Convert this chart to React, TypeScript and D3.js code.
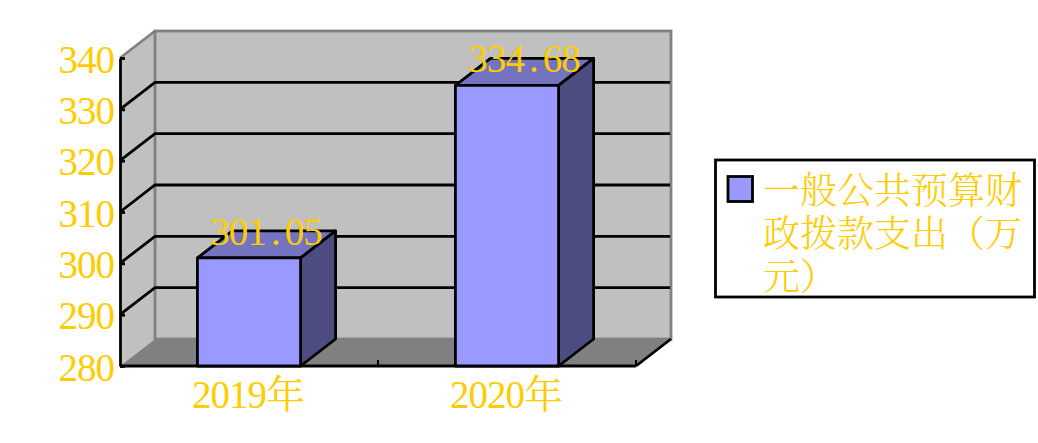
import React, { useEffect, useRef } from 'react';
import * as d3 from 'd3';

const categories = ['2019年', '2020年'];
const seriesValues = [301.05, 334.68];
const valueLabels = ['301.05', '334.68'];
const yTicks = [280, 290, 300, 310, 320, 330, 340];
const legendLines = ['一般公共预算财', '政拨款支出（万', '元）'];

const width = 1038;
const height = 443;
const left = 120;
const right = 636;
const bottom = 366;
const top = 58;
const depthX = 35;
const depthY = 27;
const yellow = '#ffcc00';
const wallGray = '#808080';
const serif = '"Liberation Serif", serif';
const cjk = '"Noto Serif CJK SC", "Noto Sans CJK SC", sans-serif';
const lineW = 2.8;

const pts = (p: number[][]) => p.map(d => d.join(',')).join(' ');

export default () => {
  const svgRef = useRef<SVGSVGElement>(null);

  useEffect(() => {
    if (!svgRef.current) {
      return;
    }

    const svg = d3.select(svgRef.current);
    svg.selectAll('*').remove();

    const y = d3.scaleLinear().domain([280, 340]).range([bottom, top]);
    const x = d3.scaleBand<string>()
      .domain(categories)
      .range([left, right])
      .paddingInner(0.6)
      .paddingOuter(0.3);

    // walls and floor
    svg.append('polygon')
      .attr('points', pts([[left, top], [left + depthX, top - depthY], [left + depthX, bottom - depthY], [left, bottom]]))
      .attr('fill', '#c0c0c0');
    svg.append('rect')
      .attr('x', left + depthX)
      .attr('y', top - depthY)
      .attr('width', right - left)
      .attr('height', bottom - top)
      .attr('fill', '#c0c0c0')
      .attr('stroke', wallGray)
      .attr('stroke-width', lineW);
    svg.append('line')
      .attr('x1', left)
      .attr('y1', top)
      .attr('x2', left + depthX)
      .attr('y2', top - depthY)
      .attr('stroke', wallGray)
      .attr('stroke-width', lineW);
    svg.append('polygon')
      .attr('points', pts([[left, bottom], [left + depthX, bottom - depthY], [right + depthX, bottom - depthY], [right, bottom]]))
      .attr('fill', wallGray);

    // grid lines run along the side wall and then the back wall
    svg.append('g')
      .selectAll('polyline')
      .data(yTicks.filter(d => d > 280 && d < 340))
      .enter()
      .append('polyline')
      .attr('points', d => pts([[left, y(d)], [left + depthX, y(d) - depthY], [right + depthX - 1, y(d) - depthY]]))
      .attr('fill', 'none')
      .attr('stroke', '#000')
      .attr('stroke-width', lineW);

    // axes
    const yAxis = svg.append('g')
      .attr('transform', `translate(${left}, 0)`)
      .call(d3.axisLeft(y).tickValues(yTicks).tickSizeInner(-5).tickSizeOuter(0).tickPadding(6));
    yAxis.select('.domain').attr('stroke', '#000').attr('stroke-width', lineW);
    yAxis.selectAll('.tick line').attr('stroke', '#000').attr('stroke-width', lineW);
    yAxis.selectAll('.tick text')
      .attr('fill', yellow)
      .attr('dy', '0.36em')
      .style('font-family', serif)
      .style('letter-spacing', '-1px')
      .style('font-size', '39px');

    const step = x.step();
    svg.append('line')
      .attr('x1', left)
      .attr('y1', bottom)
      .attr('x2', right)
      .attr('y2', bottom)
      .attr('stroke', '#000')
      .attr('stroke-width', lineW);
    svg.append('g')
      .selectAll('line')
      .data([1, 2])
      .enter()
      .append('line')
      .attr('x1', d => left + d * step)
      .attr('y1', bottom)
      .attr('x2', d => left + d * step)
      .attr('y2', bottom - 6)
      .attr('stroke', '#000')
      .attr('stroke-width', 2);
    svg.append('line')
      .attr('x1', right)
      .attr('y1', bottom)
      .attr('x2', right + depthX)
      .attr('y2', bottom - depthY)
      .attr('stroke', '#000')
      .attr('stroke-width', lineW);

    // bars
    const bars = svg.append('g')
      .selectAll('g')
      .data(categories.map((c, i) => ({ c, v: seriesValues[i], label: valueLabels[i] })))
      .enter()
      .append('g');
    const bw = x.bandwidth();
    const barStyle = (sel: any, fill: string) => sel
      .attr('fill', fill)
      .attr('stroke', '#000')
      .attr('stroke-width', lineW)
      .attr('stroke-linejoin', 'round');

    bars.append('polygon')
      .attr('points', d => {
        const x0 = x(d.c) as number;
        return pts([[x0, y(d.v)], [x0 + depthX, y(d.v) - depthY], [x0 + bw + depthX, y(d.v) - depthY], [x0 + bw, y(d.v)]]);
      })
      .call(barStyle, '#7373bf');
    bars.append('polygon')
      .attr('points', d => {
        const x1 = (x(d.c) as number) + bw;
        return pts([[x1, y(d.v)], [x1 + depthX, y(d.v) - depthY], [x1 + depthX, bottom - depthY], [x1, bottom]]);
      })
      .call(barStyle, '#4c4c80');
    bars.append('rect')
      .attr('x', d => x(d.c) as number)
      .attr('y', d => y(d.v))
      .attr('width', bw)
      .attr('height', d => bottom - y(d.v))
      .call(barStyle, '#9999ff');

    // value labels, one slot per character like the original fixed-width face
    const charWidth = 18.6;
    bars.each(function (d) {
      const cx = (x(d.c) as number) + bw / 2 + depthX / 2;
      d3.select(this)
        .append('text')
        .attr('y', y(d.v) - 13)
        .attr('text-anchor', 'middle')
        .attr('fill', yellow)
        .style('font-family', serif)
        .style('font-size', '39px')
        .selectAll('tspan')
        .data(d.label.split(''))
        .enter()
        .append('tspan')
        .text(ch => ch)
        .attr('x', (_, i) => cx + (i - (d.label.length - 1) / 2) * charWidth);
    });

    // category labels
    svg.append('g')
      .selectAll('text')
      .data(categories)
      .enter()
      .append('text')
      .text(d => d)
      .attr('x', d => (x(d) as number) + bw / 2 - 1)
      .attr('y', 408)
      .attr('text-anchor', 'middle')
      .attr('fill', yellow)
      .style('font-family', `${serif.split(',')[0]}, ${cjk}`)
      .style('letter-spacing', '-1px')
      .style('font-size', '39px');

    // legend
    const legend = svg.append('g');
    legend.append('rect')
      .attr('x', 715.5)
      .attr('y', 160)
      .attr('width', 319)
      .attr('height', 137)
      .attr('fill', '#fff')
      .attr('stroke', '#000')
      .attr('stroke-width', lineW);
    legend.append('rect')
      .attr('x', 728)
      .attr('y', 176.5)
      .attr('width', 24.5)
      .attr('height', 25)
      .attr('fill', '#9999ff')
      .attr('stroke', '#000')
      .attr('stroke-width', lineW);
    legend.append('text')
      .attr('fill', yellow)
      .style('font-family', cjk)
      .style('font-weight', 300)
      .style('font-size', '37px')
      .selectAll('tspan')
      .data(legendLines)
      .enter()
      .append('tspan')
      .text(d => d)
      .attr('x', 763)
      .attr('y', (_, i) => 204 + i * 43);
  }, []);

  return (
    <svg
      ref={svgRef}
      width={width}
      height={height}
      style={{ position: 'absolute', left: 0, top: 0, display: 'block', background: '#fff' }}
    />
  );
};
